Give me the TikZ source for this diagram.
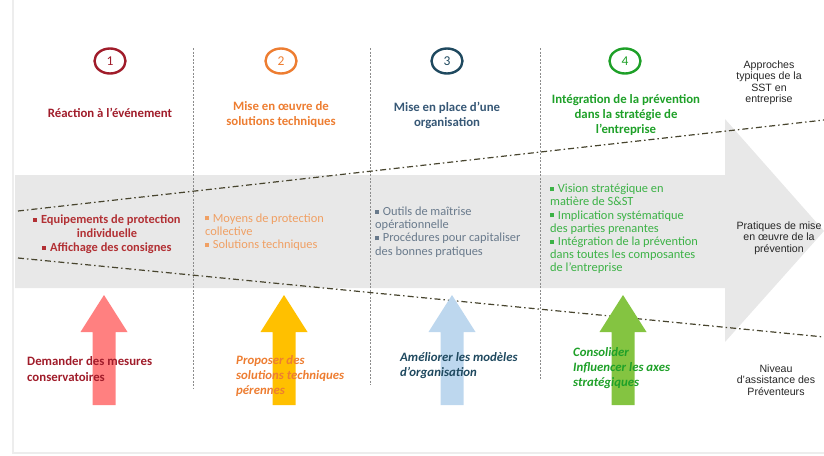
\documentclass[tikz,border=0pt]{standalone}
\usepackage{fontspec}
\setmainfont{Carlito}
\newfontfamily\arialfont{Liberation Sans}
\usetikzlibrary{shapes.geometric}
\definecolor{rougeA}{RGB}{160,28,42}
\definecolor{rougeB}{RGB}{178,48,52}
\definecolor{orangeA}{RGB}{237,125,49}
\definecolor{orangeB}{RGB}{240,160,100}
\definecolor{bleuA}{RGB}{31,73,95}
\definecolor{bleuB}{RGB}{55,88,118}
\definecolor{bleuC}{RGB}{105,122,140}
\definecolor{vertA}{RGB}{30,160,40}
\definecolor{vertB}{RGB}{60,178,70}
\definecolor{flecheA}{RGB}{255,128,128}
\definecolor{flecheB}{RGB}{255,192,0}
\definecolor{flecheC}{RGB}{189,215,238}
\definecolor{flecheD}{RGB}{132,196,65}
\definecolor{grisfond}{RGB}{232,232,232}
\newcommand{\puce}{\rule[0.28ex]{0.32em}{0.32em}\hspace{0.3em}}
\tikzset{
  cadre/.style={draw=black!7, line width=1.5pt},
  separ/.style={draw=black!45, line width=0.5pt, dash pattern=on 2pt off 1.5pt},
  tiret/.style={draw=black!65!olive, line width=1.2pt, dash pattern=on 6pt off 3pt on 1.5pt off 3pt},
  numero/.style={ellipse, line width=2.4pt, minimum width=31pt, minimum height=25pt,
    inner sep=0pt, font=\fontsize{13.5}{15}\selectfont},
  titre/.style={align=center, font=\bfseries\fontsize{12.8}{15}\selectfont},
  puces/.style={font=\fontsize{12.4}{13.2}\selectfont, inner sep=0pt},
  bas/.style={anchor=west, align=left, inner sep=0pt, font=\bfseries\itshape\fontsize{12.8}{15}\selectfont},
  cote/.style={align=center, text=black!85, font=\arialfont\fontsize{10.6}{11.5}\selectfont},
}

\begin{document}
\begin{tikzpicture}[x=1pt,y=-1pt]
\useasboundingbox (0,0) rectangle (824,455);

  %% frame
  \draw[cadre] (13,0) -- (13,453) -- (824,453);

  %% big grey arrow
  \fill[grisfond] (15,175) -- (725,175) -- (725,119) -- (824,231)
    -- (725,342) -- (725,288) -- (15,288) -- cycle;

  %% separators
  \foreach \x/\y in {193/388, 370/385, 540/380}{
    \draw[separ] (\x,48) -- (\x,\y);
  }

  %% dash-dot lines
  \coordinate (hautG) at (18,211);
  \coordinate (hautD) at (824,120);
  \coordinate (basG) at (18,258);
  \coordinate (basD) at (824,337);
  \draw[tiret] (hautG) -- (hautD);
  \draw[tiret] (basG) -- (basD);

  %% up arrows
  \foreach \x/\c in {104/flecheA, 284/flecheB, 452/flecheC, 623/flecheD}{
    \fill[\c] (\x-11.5,405) -- (\x-11.5,332) -- (\x-23.5,332) -- (\x,295)
      -- (\x+23.5,332) -- (\x+11.5,332) -- (\x+11.5,405) -- cycle;
  }

  %% numbers
  \foreach \x/\n/\c in {110/1/rougeA, 281/2/orangeA, 447/3/bleuA, 625/4/vertA}{
    \node[numero, draw=\c, text=\c] (num\n) at (\x,61) {\n};
  }

  %% titles
  \node[titre, text=rougeA] (titre1) at (110,113) {Réaction à l’événement};
  \node[titre, text=orangeA] (titre2) at (281,115) {Mise en œuvre de\\solutions techniques};
  \node[titre, text=bleuB] (titre3) at (447,115) {Mise en place d’une\\organisation};
  \node[titre, text=vertA] (titre4) at (626,115) {Intégration de la prévention\\dans la stratégie de\\l’entreprise};

  %% practices
  \node[puces, align=center, text=rougeB, font=\bfseries\fontsize{12.4}{14}\selectfont]
    (prat1) at (107,234) {\puce Equipements de protection\\individuelle\\\puce Affichage des consignes};
  \node[puces, anchor=west, align=left, text=orangeB] (prat2) at (205,232)
    {\puce Moyens de protection\\collective\\\puce Solutions techniques};
  \node[puces, anchor=west, align=left, text=bleuC] (prat3) at (375,232)
    {\puce Outils de maîtrise\\opérationnelle\\\puce Procédures pour capitaliser\\des bonnes pratiques};
  \node[puces, anchor=west, align=left, text=vertB] (prat4) at (550,229)
    {\puce Vision stratégique en\\matière de S\&ST\\\puce Implication systématique\\des parties prenantes\\\puce Intégration de la prévention\\dans toutes les composantes\\de l’entreprise};

  %% assistance
  \node[bas, text=rougeA, font=\bfseries\fontsize{12.8}{16}\selectfont] (aide1) at (27,369) {Demander des mesures\\conservatoires};
  \node[bas, text=orangeA] (aide2) at (236,376) {Proposer des\\solutions techniques\\pérennes};
  \node[bas, text=bleuA] (aide3) at (400,366) {Améliorer les modèles\\d’organisation};
  \node[bas, text=vertA] (aide4) at (573,368) {Consolider\\Influencer les axes\\stratégiques};

  %% right labels
  \node[cote] (approches) at (769,83) {Approches\\typiques de la\\SST en\\entreprise};
  \node[cote] (pratiques) at (779,238) {Pratiques de mise\\en œuvre de la\\prévention};
  \node[cote] (niveau) at (776,380) {Niveau\\d’assistance des\\Préventeurs};

\end{tikzpicture}
\end{document}
